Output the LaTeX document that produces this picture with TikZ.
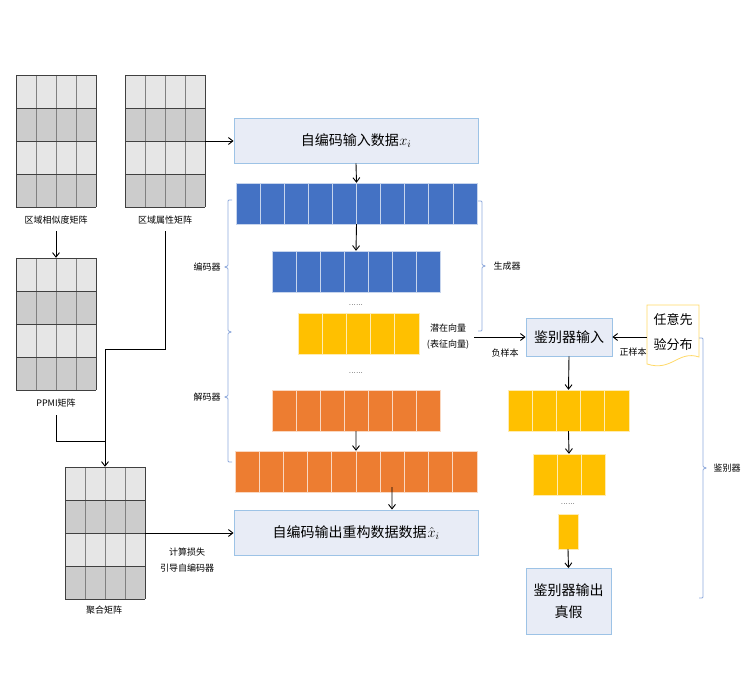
\documentclass[tikz,border=0pt]{standalone}
\usepackage{fontspec}
\newfontfamily\cjk{Noto Sans CJK SC}
\usetikzlibrary{arrows.meta,calc}
\definecolor{blueA}{HTML}{4472C4}
\definecolor{orangeA}{HTML}{ED7D31}
\definecolor{yellowA}{HTML}{FFC000}
\definecolor{boxfill}{HTML}{E8ECF6}
\definecolor{boxblue}{HTML}{9DC3E6}
\definecolor{bracecol}{HTML}{8FAADC}
\definecolor{matlight}{HTML}{E6E6E6}
\definecolor{matdark}{HTML}{CCCCCC}
\definecolor{matline}{HTML}{404040}
\definecolor{matvline}{HTML}{808080}
\definecolor{docyel}{HTML}{FFD966}
% #1 name, #2 x0, #3 y0, #4 n, #5 cell width, #6 colour
\newcommand\cellrow[6]{%
  \pgfmathsetmacro\rw{#4*#5}%
  \node[rowbox,minimum width=\rw pt] (#1) at ({#2+\rw/2},{#3+20.5}) {};%
  \foreach \k in {1,...,#4}{\draw[fill=#6,draw=white!70!#6,line width=0.7pt] ({#2+(\k-1)*#5},#3) rectangle ++(#5,41);}%
}
% #1 name, #2 x0, #3 y0
\newcommand\matx[3]{%
  \node[inner sep=0pt,minimum width=80pt,minimum height=132pt] (#1) at ({#2+40},{#3+66}) {};%
  \foreach \r/\c in {0/matlight,1/matdark,2/matlight,3/matdark}{\fill[\c] (#2,{#3+\r*33}) rectangle ++(80,33);}%
  \foreach \k in {1,...,3}{\draw[matvline,line width=0.8pt] ({#2+\k*20},#3) -- ++(0,132);}%
  \foreach \k in {0,4}{\draw[matline,line width=0.7pt] ({#2+\k*20},#3) -- ++(0,132);}%
  \foreach \k in {0,...,4}{\draw[matline,line width=0.7pt] (#2,{#3+\k*33}) -- ++(80,0);}%
}
\begin{document}
\begin{tikzpicture}[x=1pt,y=-1pt,font=\cjk,
  arr/.style={-{Straight Barb[length=4.5pt,width=7pt]},line width=0.9pt},
  ln/.style={line width=0.9pt},
  rowbox/.style={inner sep=0pt,minimum height=41pt},
  bx/.style={draw=boxblue,fill=boxfill,line width=0.9pt,inner sep=0pt,align=center},
  brc/.style={draw=bracecol,line width=0.8pt,rounded corners=1pt},
  lab/.style={font=\cjk\fontsize{9}{16}\selectfont,inner sep=1pt,align=center},
  big/.style={font=\cjk\fontsize{14}{22}\selectfont},
  dots/.style={font=\fontsize{8}{8}\selectfont,inner sep=0pt}
]
\useasboundingbox (0,0) rectangle (750,700);

% matrices
\matx{m1}{16}{75}
\matx{m2}{125}{75}
\matx{m3}{16}{258}
\matx{m4}{65}{467}
\node[lab] (l1) at (56,220) {区域相似度矩阵};
\node[lab] (l2) at (165,220) {区域属性矩阵};
\node[lab] (l3) at (56,403) {PPMI矩阵};
\node[lab] (l4) at (104,610) {聚合矩阵};

% autoencoder boxes
\node[bx,big,minimum width=244pt,minimum height=45pt] (in) at (356,140.5) {自编码输入数据\kern0.5pt$x_i$};
\node[bx,big,minimum width=244pt,minimum height=45pt] (out) at (356,532.5) {自编码输出重构数据数据\kern1pt$\hat{x}_i$};

% layer rows
\cellrow{b1}{236}{183}{10}{24.1}{blueA}
\cellrow{b2}{272}{251}{7}{24}{blueA}
\cellrow{y1}{298}{313}{5}{24.2}{yellowA}
\cellrow{o1}{272}{390}{7}{24}{orangeA}
\cellrow{o2}{235}{451}{10}{24.2}{orangeA}
\node[dots] (dt1) at (356,305) {......};
\node[dots] (dt2) at (356,373) {......};

% discriminator
\node[bx,big,minimum width=86pt,minimum height=38pt] (din) at (569,337) {鉴别器输入};
\cellrow{d1}{508}{390}{5}{24.2}{yellowA}
\cellrow{d2}{533}{454}{3}{24}{yellowA}
\node[dots] (dt3) at (568,504) {......};
\node[inner sep=0pt,minimum width=20pt,minimum height=35pt] (d3) at (568,531.5) {};
\draw[fill=yellowA,draw=white!70!yellowA,line width=0.7pt] (558,514) rectangle (578,549);
\node[bx,big,minimum width=85pt,minimum height=66pt] (dout) at (568.5,601) {鉴别器输出\\真假};

% prior document
\draw[draw=docyel,fill=white,line width=0.8pt] (647,305) -- (699,305) -- (699,357) .. controls (678,350) and (672,372) .. (647,364) -- cycle;
\node[font=\cjk\fontsize{13}{25}\selectfont,align=center,inner sep=0pt,minimum width=52pt] (prior) at (673,332) {任意先\\验分布};

% labels
\node[lab] (lat) at (448,337) {潜在向量\\(表征向量)};
\node[lab] (neg) at (505,353) {负样本};
\node[lab] (pos) at (633,352) {正样本};
\node[lab] (loss) at (187,560) {计算损失\\引导自编码器};
\node[lab] (enc) at (207,267) {编码器};
\node[lab] (dec) at (207,397) {解码器};
\node[lab] (gen) at (507,266) {生成器};
\node[lab] (dis) at (727,468) {鉴别器};

% braces
\draw[brc] (232,200) -- (228,200) -- (228,266) -- (224,267) -- (228,268) -- (228,331) -- (232,332) -- (228,333) -- (228,396) -- (224,397) -- (228,398) -- (228,462) -- (232,462);
\draw[brc] (478,201) -- (482,201) -- (482,265) -- (486,266) -- (482,267) -- (482,331) -- (478,331);
\draw[brc] (699,338) -- (703,338) -- (703,467) -- (707,468) -- (703,469) -- (703,598) -- (699,598);

% connectors
\draw[arr] (m2.east) -- (m2.east -| in.west);
\draw[arr] (in.south) -- (b1.north);
\draw[arr] (b1.south) -- (b2.north);
\draw[arr] (o1.south) -- (o2.north);
\draw[arr] ($(o2.south)+(36,-5)$) -- ($(out.north)+(36,0)$);
\draw[arr] ([xshift=4pt]lat.east) -- (din.west);
\draw[arr] (prior.west |- din.east) -- (din.east);
\draw[arr] (din.south) -- (d1.north);
\draw[arr] (d1.south) -- (d2.north);
\draw[arr] (d3.south) -- ([yshift=-0.5pt]dout.north);
\draw[arr] ([yshift=-6pt]l1.south) -- (m3.north);
\coordinate (j1) at (m4.north |- 0,441);
\coordinate (j2) at (m4.north |- 0,349);
\draw[ln] ([yshift=-7pt]l3.south) |- (j1);
\draw[arr] ([yshift=-6pt]l2.south) |- (j2) -- (m4.north);
\draw[arr] (m4.east) -- (m4.east -| out.west);
\end{tikzpicture}
\end{document}
